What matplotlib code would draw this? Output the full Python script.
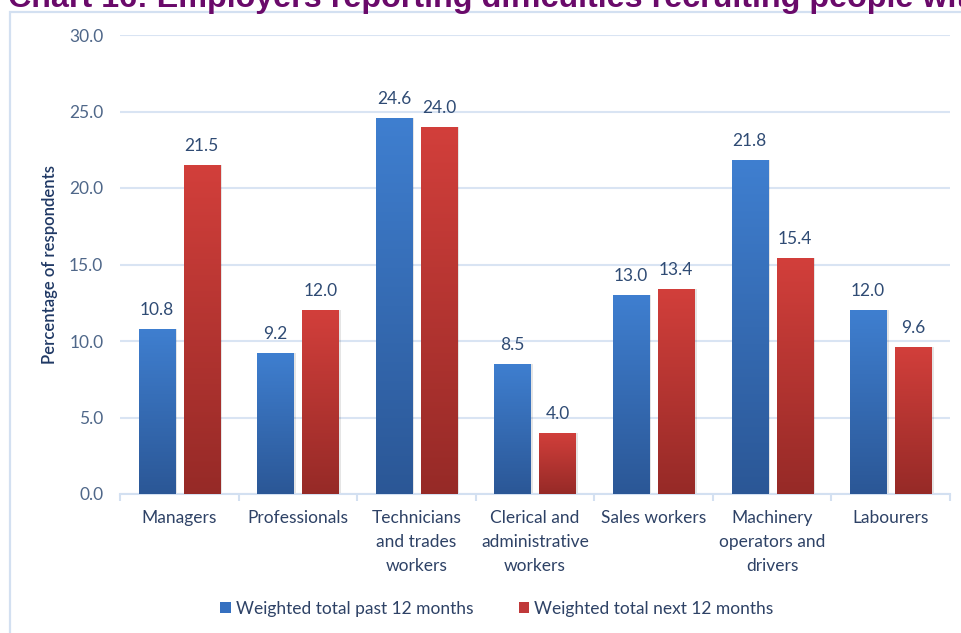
import numpy as np
import matplotlib
matplotlib.use("Agg")
import matplotlib.pyplot as plt
from matplotlib.colors import LinearSegmentedColormap
from matplotlib.patches import Rectangle

# occupations and survey results (% of respondents)
categories = ["Managers", "Professionals", "Technicians\nand trades\nworkers",
              "Clerical and\nadministrative\nworkers", "Sales workers",
              "Machinery\noperators and\ndrivers", "Labourers"]
past_12 = [10.8, 9.2, 24.6, 8.5, 13.0, 21.8, 12.0]
next_12 = [21.5, 12.0, 24.0, 4.0, 13.4, 15.4, 9.6]
series_names = ["Weighted total past 12 months", "Weighted total next 12 months"]
yticks = [0, 5, 10, 15, 20, 25, 30]

plt.rcParams['font.family'] = ['Lato', 'DejaVu Sans']

blue_cmap = LinearSegmentedColormap.from_list("b", ["#2b5796", "#3f7fd0"])
red_cmap = LinearSegmentedColormap.from_list("r", ["#962a27", "#d23f3b"])
grad = np.linspace(0, 1, 256).reshape(-1, 1)

fig = plt.figure(figsize=(9.62, 6.33), dpi=100)
ax = fig.add_axes([120 / 962, 1 - 494 / 633, 830 / 962, 459 / 633])

# outer chart frame
fig.patches.append(Rectangle((10 / 962, -0.1), 1.2, 1 - 12 / 633 + 0.1,
                             transform=fig.transFigure, fill=False,
                             edgecolor="#d3e0f1", lw=1.6))

fig.text(8 / 962, 1 - 6.5 / 633, "Chart 16: Employers reporting difficulties recruiting people with",
         family="Liberation Sans", weight="bold", fontsize=23.2, color="#6a0a6a",
         va="baseline", ha="left")

x = np.arange(len(categories))
w = 0.305
off = 0.19

def draw(xs, vals, cmap, color):
    # soft shadow then the bar filled with a vertical gradient
    ax.bar(xs + 0.02, vals, w, color="#000000", alpha=0.10, zorder=2)
    bars = ax.bar(xs, vals, w, color=color, zorder=3, lw=0)
    for b, v in zip(bars, vals):
        im = ax.imshow(grad, extent=[b.get_x(), b.get_x() + b.get_width(), 0, v],
                       origin="lower", cmap=cmap, aspect="auto", zorder=4)
        im.set_clip_path(b)
        ax.annotate(f"{v:.1f}", (b.get_x() + b.get_width() / 2, v),
                    xytext=(0, 8), textcoords="offset points", ha="center",
                    va="bottom", fontsize=12.5, color="#2f4b74")
    return bars

b1 = draw(x - off, past_12, blue_cmap, "#3570c0")
b2 = draw(x + off, next_12, red_cmap, "#c0393a")

ax.set_xlim(-0.5, len(categories) - 0.5)
ax.set_ylim(0, 30)
ax.set_yticks(yticks)
ax.set_yticklabels([f"{t:.1f}" for t in yticks], fontsize=12.5, color="#4f6789")
ax.yaxis.grid(True, color="#d9e4f3", lw=1.5, zorder=0)
ax.set_axisbelow(True)
for s in ["top", "right", "left"]:
    ax.spines[s].set_visible(False)
ax.spines["bottom"].set_color("#d3e0f1")
ax.spines["bottom"].set_linewidth(1.5)
ax.tick_params(axis="y", length=0, pad=12)

ax.set_xticks(np.arange(-0.5, len(categories), 1))
ax.set_xticklabels([])
ax.tick_params(axis="x", length=5, color="#d3e0f1", width=1.5)
for xi, lab in zip(x, categories):
    ax.text(xi, -1.05, lab, ha="center", va="top", fontsize=12.5,
            color="#2e4266", linespacing=1.62)

ax.set_ylabel("Percentage of respondents", fontsize=12, color="#1f3864",
              weight="semibold", labelpad=8)

leg = fig.legend([b1, b2], series_names, loc="center", bbox_to_anchor=(497 / 962, 1 - 609 / 633),
                 ncol=2, frameon=False, fontsize=12.5, handlelength=0.6, handleheight=0.6,
                 handletextpad=0.3, columnspacing=2.6)
for t in leg.get_texts():
    t.set_color("#2e4266")
leg.legend_handles[0].set_color("#3570c0")
leg.legend_handles[1].set_color("#c0393a")

fig.savefig("out.png", dpi=100)
